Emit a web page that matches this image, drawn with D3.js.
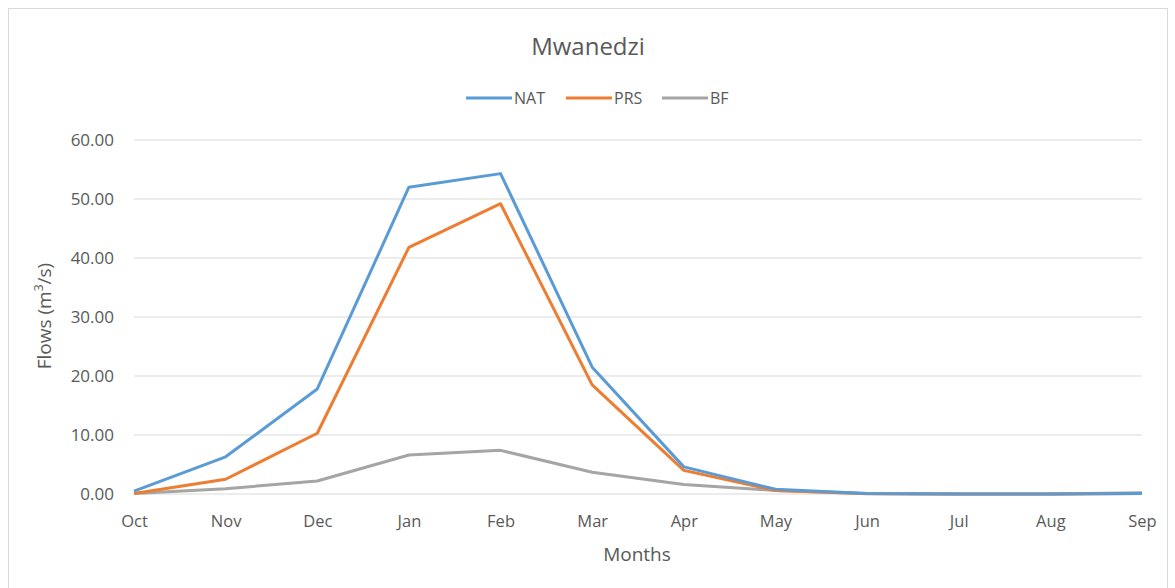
<!DOCTYPE html>
<html>
<head>
<meta charset="utf-8">
<script src="https://cdn.jsdelivr.net/npm/d3@7"></script>
<style>
  body { margin: 0; background: #fff; }
  svg text { font-family: "Open Sans", sans-serif; fill: #595959; }
</style>
</head>
<body>
<div id="chart"></div>
<script>
// chart data
var months = ['Oct', 'Nov', 'Dec', 'Jan', 'Feb', 'Mar', 'Apr', 'May', 'Jun', 'Jul', 'Aug', 'Sep'];
var natValues = [0.5, 6.3, 17.8, 52.0, 54.3, 21.5, 4.6, 0.8, 0.1, 0.0, 0.0, 0.1];
var prsValues = [0.1, 2.5, 10.3, 41.8, 49.2, 18.5, 4.0, 0.6, 0.05, 0.0, 0.0, 0.1];
var bfValues = [0.1, 0.9, 2.2, 6.6, 7.4, 3.7, 1.6, 0.6, 0.1, 0.0, 0.0, 0.2];
var yTicks = [0, 10, 20, 30, 40, 50, 60];

var series = [
    { name: 'NAT', values: natValues, color: '#5b9bd5' },
    { name: 'PRS', values: prsValues, color: '#ed7d31' },
    { name: 'BF', values: bfValues, color: '#a5a5a5' }
];

var width = 1175, height = 588;
var svg = d3.select('#chart').append('svg').attr('width', width).attr('height', height);

// outer chart border
svg.append('rect').attr('x', 8.5).attr('y', 8.5).attr('width', 1159).attr('height', 620)
    .attr('fill', '#fff').attr('stroke', '#d9d9d9').attr('stroke-width', 1);

var x = d3.scalePoint().domain(months).range([134, 1142]);
var y = d3.scaleLinear().domain([0, 60]).range([494, 140]);

// gridlines
svg.append('g').selectAll('line').data(yTicks).enter().append('line')
    .attr('x1', 134).attr('x2', 1142)
    .attr('y1', function(d) { return y(d); }).attr('y2', function(d) { return y(d); })
    .attr('stroke', '#d9d9d9').attr('stroke-width', 1);

// y axis labels
var yAxis = d3.axisLeft(y).tickValues(yTicks).tickFormat(d3.format('.2f')).tickSize(0).tickPadding(0);
var yg = svg.append('g').attr('transform', 'translate(114,0)').call(yAxis);
yg.select('.domain').remove();
yg.selectAll('text').style('font-size', '17px').attr('dy', '0.35em');

// x axis labels
var xAxis = d3.axisBottom(x).tickSize(0).tickPadding(0);
var xg = svg.append('g').attr('transform', 'translate(0,515)').call(xAxis);
xg.select('.domain').remove();
xg.selectAll('text').style('font-size', '16.5px').attr('dy', '0.71em');

// lines
var line = d3.line()
    .x(function(d, i) { return x(months[i]); })
    .y(function(d) { return y(d); });

svg.append('g').selectAll('path').data(series.slice().reverse()).enter().append('path')
    .attr('d', function(s) { return line(s.values); })
    .attr('fill', 'none')
    .attr('stroke', function(s) { return s.color; })
    .attr('stroke-width', 3)
    .attr('stroke-linejoin', 'round');

// title
svg.append('text').attr('x', 588).attr('y', 55).attr('text-anchor', 'middle')
    .style('font-size', '24px').text('Mwanedzi');

// legend
var legendX = [466, 566, 662];
var legend = svg.append('g').selectAll('g').data(series).enter().append('g')
    .attr('transform', function(d, i) { return 'translate(' + legendX[i] + ',98)'; });
legend.append('line').attr('x1', 0).attr('x2', 46).attr('y1', 0).attr('y2', 0)
    .attr('stroke', function(d) { return d.color; }).attr('stroke-width', 3);
legend.append('text').attr('x', 48).attr('y', 0).attr('dy', '0.35em')
    .style('font-size', '16px').text(function(d) { return d.name; });

// axis titles
svg.append('text').attr('x', 637).attr('y', 561).attr('text-anchor', 'middle')
    .style('font-size', '19px').text('Months');
svg.append('text').attr('transform', 'translate(51,316) rotate(-90)').attr('text-anchor', 'middle')
    .style('font-size', '19px')
    .html('Flows (m<tspan baseline-shift="super" font-size="12px">3</tspan>/s)');
</script>
</body>
</html>
